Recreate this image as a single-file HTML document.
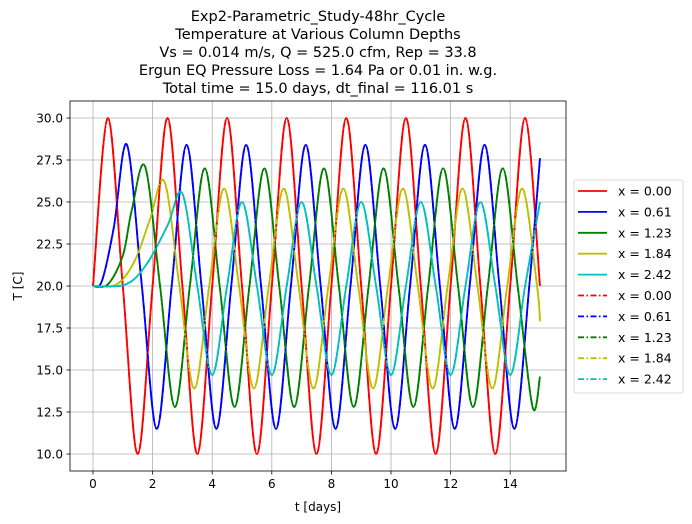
<!DOCTYPE html>
<html><head><meta charset="utf-8"><style>
body{margin:0;background:#fff}
svg{display:block;font-family:"DejaVu Sans","Liberation Sans",sans-serif}
</style></head><body>
<svg id="chart" width="692" height="524"></svg>
<script>
const xTicks=[0,2,4,6,8,10,12,14];
const yTicks=[10.0,12.5,15.0,17.5,20.0,22.5,25.0,27.5,30.0];
const seriesNames=["x = 0.00","x = 0.61","x = 1.23","x = 1.84","x = 2.42"];
const seriesColors=["#ff0000","#0000ff","#008000","#bfbf00","#00bfbf"];
const redT=[0,0.5,1,1.5,2,2.5,3,3.5,4,4.5,5,5.5,6,6.5,7,7.5,8,8.5,9,9.5,10,10.5,11,11.5,12,12.5,13,13.5,14,14.5,15];
const redV=[20,30,20,10,20,30,20,10,20,30,20,10,20,30,20,10,20,30,20,10,20,30,20,10,20,30,20,10,20,30,20];
const blueT=[0,0.3,0.7,1.14,1.64,2.14,2.64,3.14,3.64,4.14,4.64,5.14,5.64,6.14,6.64,7.14,7.64,8.14,8.64,9.14,9.64,10.14,10.64,11.14,11.64,12.14,12.64,13.14,13.64,14.14,14.64,15];
const blueV=[20,20.3,23.5,28.4,20,11.5,20,28.4,20,11.5,20,28.4,20,11.5,20,28.4,20,11.5,20,28.4,20,11.5,20,28.4,20,11.5,20,28.4,20,11.5,20,27.6];
const greenT=[0,0.5,1.0,1.3,1.75,2.25,2.75,3.25,3.75,4.25,4.75,5.25,5.75,6.25,6.75,7.25,7.75,8.25,8.75,9.25,9.75,10.25,10.75,11.25,11.75,12.25,12.75,13.25,13.75,14.25,14.75,15];
const greenV=[20,20.1,21.8,24.5,27.1,20,12.8,20,27.0,20,12.8,20,27.0,20,12.8,20,27.0,20,12.8,20,27.0,20,12.8,20,27.0,20,12.8,20,27.0,20,12.8,14.6];
const yellowT=[0,0.8,1.4,1.9,2.4,2.9,3.4,3.9,4.4,4.9,5.4,5.9,6.4,6.9,7.4,7.9,8.4,8.9,9.4,9.9,10.4,10.9,11.4,11.9,12.4,12.9,13.4,13.9,14.4,14.9,15];
const yellowV=[20,20.1,21.5,23.9,26.2,20,13.9,20,25.8,20,13.9,20,25.8,20,13.9,20,25.8,20,13.9,20,25.8,20,13.9,20,25.8,20,13.9,20,25.8,20,17.9];
const cyanT=[0,1.1,1.8,2.5,3.0,3.5,4.0,4.5,5.0,5.5,6.0,6.5,7.0,7.5,8.0,8.5,9.0,9.5,10.0,10.5,11.0,11.5,12.0,12.5,13.0,13.5,14.0,14.5,15.0];
const cyanV=[20,20.1,21.3,23.6,25.5,20,14.7,20,25.0,20,14.7,20,25.0,20,14.7,20,25.0,20,14.7,20,25.0,20,14.7,20,25.0,20,14.7,20,25.0];
const titleLines=["Exp2-Parametric_Study-48hr_Cycle","Temperature at Various Column Depths","Vs = 0.014 m/s, Q = 525.0 cfm, Rep = 33.8","Ergun EQ Pressure Loss = 1.64 Pa or 0.01 in. w.g.","Total time = 15.0 days, dt_final = 116.01 s"];

const NS="http://www.w3.org/2000/svg";
const svg=document.getElementById('chart');
const L=70,R=566,T=101,B=471;
const xs=t=>93+t*29.8;
const ys=v=>454-(v-10)*16.8;
function mk(tag,attrs,parent){const e=document.createElementNS(NS,tag);for(const k in attrs)e.setAttribute(k,attrs[k]);(parent||svg).appendChild(e);return e;}

titleLines.forEach((s,i)=>{const t=mk('text',{x:318,y:21+i*18,'text-anchor':'middle','font-size':14.5,fill:'#000'});t.textContent=s;

});

xTicks.forEach(v=>{const x=xs(v);
const g=mk('line',{x1:x,x2:x,y1:T,y2:B,stroke:'#b0b0b0','stroke-width':0.8});


mk('line',{x1:x,x2:x,y1:B,y2:B+3.5,stroke:'#000','stroke-width':0.8});
const t=mk('text',{x:x,y:B+17,'text-anchor':'middle','font-size':12});t.textContent=v;

});
yTicks.forEach(v=>{const y=ys(v);
const g=mk('line',{x1:L,x2:R,y1:y,y2:y,stroke:'#b0b0b0','stroke-width':0.8});


mk('line',{x1:L-3.5,x2:L,y1:y,y2:y,stroke:'#000','stroke-width':0.8});
const t=mk('text',{x:L-7,y:y+4.5,'text-anchor':'end','font-size':12});t.textContent=v.toFixed(1);

});

function pathFrom(ts,vs){
  const p=ts.map((t,i)=>[xs(t),ys(vs[i])]);
  let d='M'+p[0][0]+','+p[0][1];
  for(let i=0;i<p.length-1;i++){
    const p0=p[Math.max(0,i-1)],p1=p[i],p2=p[i+1],p3=p[Math.min(p.length-1,i+2)];
    const c1=[p1[0]+(p2[0]-p0[0])/6,p1[1]+(p2[1]-p0[1])/6];
    const c2=[p2[0]-(p3[0]-p1[0])/6,p2[1]-(p3[1]-p1[1])/6];
    d+=` C${c1[0]},${c1[1]} ${c2[0]},${c2[1]} ${p2[0]},${p2[1]}`;
  }
  return d;
}
const allT=[redT,blueT,greenT,yellowT,cyanT],allV=[redV,blueV,greenV,yellowV,cyanV];
const clip=mk('clipPath',{id:'pc'});mk('rect',{x:L,y:T,width:R-L,height:B-T},clip);
[false,true].forEach(dash=>{allT.forEach((ts,i)=>{
  const a={d:pathFrom(ts,allV[i]),fill:'none',stroke:seriesColors[i],'stroke-width':1.8,'clip-path':'url(#pc)'};
  if(dash)a['stroke-dasharray']='6,2.5,1.5,2.5';
  const p=mk('path',a);
  
  
});});

const fr=mk('rect',{x:L,y:T,width:R-L,height:B-T,fill:'none',stroke:'#000','stroke-width':0.8});



const xl=mk('text',{x:318,y:511,'text-anchor':'middle','font-size':12});xl.textContent='t [days]';


const yl=mk('text',{x:0,y:0,'text-anchor':'middle','font-size':12,transform:'translate(22,286) rotate(-90)'});yl.textContent='T [C]';



const lg=mk('g',{});


mk('rect',{x:574,y:180,width:109,height:213,rx:2,fill:'#fff',stroke:'#d0d0d0','stroke-width':0.8},lg);
for(let k=0;k<10;k++){
  const i=k%5,y=191+k*20.9;
  const a={x1:578,x2:607,y1:y,y2:y,stroke:seriesColors[i],'stroke-width':1.8};
  if(k>=5)a['stroke-dasharray']='6,2.5,1.5,2.5';
  mk('line',a,lg);
  const t=mk('text',{x:618,y:y+4.5,'font-size':12.5},lg);t.textContent=seriesNames[i];
  
  
}
</script>
</body></html>
